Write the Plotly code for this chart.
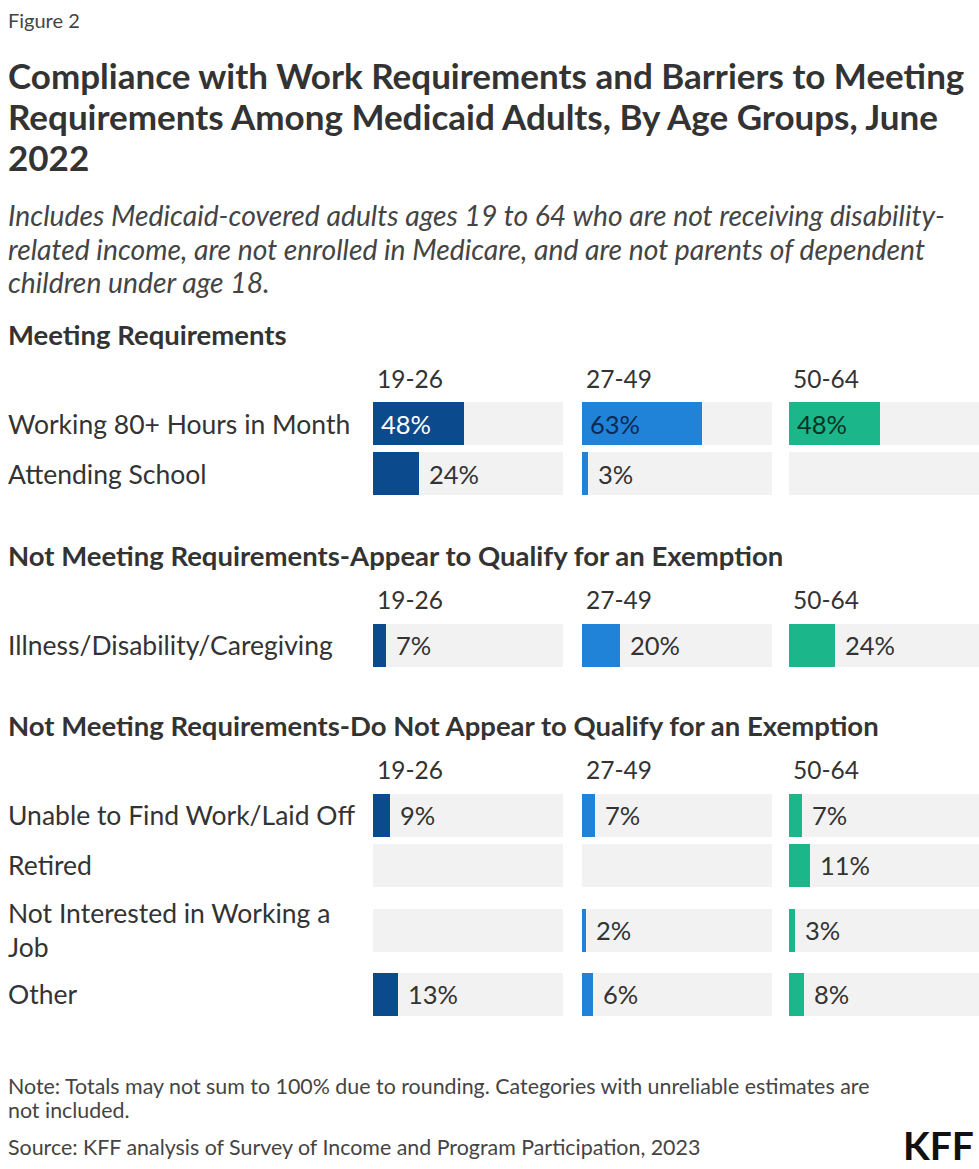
import plotly.graph_objects as go

# ---------------- data ----------------
age_groups = ["19-26", "27-49", "50-64"]
rows = ["Working 80+ Hours in Month", "Attending School", "Illness/Disability/Caregiving",
        "Unable to Find Work/Laid Off", "Retired", "Not Interested in Working a<br>Job", "Other"]
vals_19_26 = [48, 24, 7, 9, None, None, 13]
vals_27_49 = [63, 3, 20, 7, None, 2, 6]
vals_50_64 = [48, None, 24, 7, 11, 3, 8]
sections = ["Meeting Requirements",
            "Not Meeting Requirements-Appear to Qualify for an Exemption",
            "Not Meeting Requirements-Do Not Appear to Qualify for an Exemption"]

title_lines = ["Compliance with Work Requirements and Barriers to Meeting",
               "Requirements Among Medicaid Adults, By Age Groups, June",
               "2022"]
subtitle_lines = ["Includes Medicaid-covered adults ages 19 to 64 who are not receiving disability-",
                  "related income, are not enrolled in Medicare, and are not parents of dependent",
                  "children under age 18."]
note_lines = ["Note: Totals may not sum to 100% due to rounding. Categories with unreliable estimates are",
              "not included."]
source = "Source: KFF analysis of Survey of Income and Program Participation, 2023"

# ---------------- layout spec (pixels) ----------------
W, H = 979, 1169
row_y = [423.5, 473.5, 645, 815, 865, 930, 994]
section_y = [334, 555, 725]
header_y = [378, 599, 769]
title_y = [75, 116, 157]
subtitle_y = [215, 249, 282]
note_y = [1086, 1110]
panels = [(373, 563), (582, 772), (789, 979)]
colors = ["#0b4a8c", "#2183d8", "#1cb68b"]
inside_text_colors = ["#ffffff", "#0c2a55", "#0c3322"]
track = "#f2f2f2"
FONT = "Lato"
TXT = "#333333"
BAR_W = 43

series = [vals_19_26, vals_27_49, vals_50_64]

fig = go.Figure()
for i, vals in enumerate(series):
    xa = "x" if i == 0 else f"x{i+1}"
    fig.add_trace(go.Bar(x=[100] * len(rows), y=row_y, orientation="h", width=BAR_W,
                         marker=dict(color=track, line=dict(width=0)), xaxis=xa, yaxis="y",
                         hoverinfo="skip", showlegend=False))
    fig.add_trace(go.Bar(x=[v if v is not None else 0 for v in vals], y=row_y, orientation="h",
                         width=BAR_W, marker=dict(color=colors[i], line=dict(width=0)),
                         xaxis=xa, yaxis="y", showlegend=False,
                         name=age_groups[i]))

annotations = []
def px(x):
    return x / W
def py(y):
    return 1 - y / H

def txt(x, y, text, size, color=TXT, anchor="left"):
    return dict(x=px(x), y=py(y), xref="paper", yref="paper", text=text, xanchor=anchor,
                yanchor="middle", align="left", showarrow=False,
                font=dict(family=FONT, size=size, color=color))

# value labels
for i, vals in enumerate(series):
    xr = "x" if i == 0 else f"x{i+1}"
    for j, v in enumerate(vals):
        if v is None:
            continue
        if j == 0:
            annotations.append(dict(x=0, y=row_y[j], xref=xr, yref="y", text=f"{v}%",
                                    xanchor="left", yanchor="middle", xshift=6, showarrow=False,
                                    font=dict(family=FONT, size=25.5, color=inside_text_colors[i])))
        else:
            annotations.append(dict(x=v, y=row_y[j], xref=xr, yref="y", text=f"{v}%",
                                    xanchor="left", yanchor="middle", xshift=8, showarrow=False,
                                    font=dict(family=FONT, size=25.5, color=TXT)))

# row labels
for j, r in enumerate(rows):
    annotations.append(txt(6, row_y[j], r, 26.5))

# section headings
for s, y in zip(sections, section_y):
    annotations.append(txt(6, y, f"<b>{s}</b>", 27.5))

# column headers
for hy in header_y:
    for (x0, x1), g in zip(panels, age_groups):
        annotations.append(txt(x0 + 2, hy, g, 24.5))

annotations.append(txt(6, 20, "Figure 2", 20, "#444444"))
for t, y in zip(title_lines, title_y):
    annotations.append(txt(6, y, f"<b>{t}</b>", 35, "#333333"))
for t, y in zip(subtitle_lines, subtitle_y):
    annotations.append(txt(6, y, f"<i>{t}</i>", 28.3, "#444444"))
for t, y in zip(note_lines, note_y):
    annotations.append(txt(6, y, t, 21.4, "#444444"))
annotations.append(txt(6, 1147, source, 21.4, "#444444"))
annotations.append(txt(976, 1145, "<b>KFF</b>", 39, "#111111", anchor="right"))

layout = dict(
    width=W, height=H, margin=dict(l=0, r=0, t=0, b=0),
    paper_bgcolor="white", plot_bgcolor="white", barmode="overlay", bargap=0,
    yaxis=dict(range=[H, 0], domain=[0, 1], visible=False, fixedrange=True),
    annotations=annotations, showlegend=False,
)
for i, (x0, x1) in enumerate(panels):
    key = "xaxis" if i == 0 else f"xaxis{i+1}"
    layout[key] = dict(domain=[x0 / W, x1 / W], range=[0, 100], visible=False, fixedrange=True,
                       anchor="y")
fig.update_layout(**layout)

fig.write_html("out.html", config={"displayModeBar": False},
               post_script="document.body.style.margin='0';")
